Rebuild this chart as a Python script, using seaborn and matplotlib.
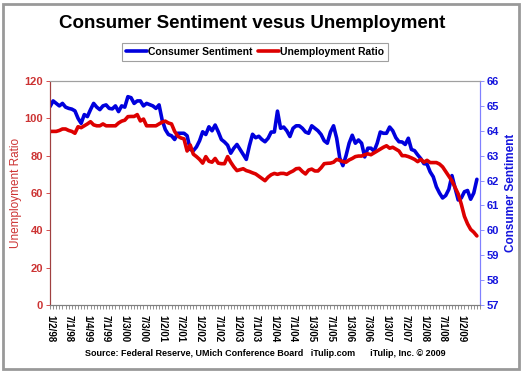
import matplotlib
matplotlib.use("Agg")
import pandas as pd
import matplotlib.pyplot as plt
import seaborn as sns
from matplotlib.patches import Rectangle

# x tick labels, one every 6 months (monthly data, Jan 1998 - Jun 2009)
tick_dates = ["1/2/98", "7/1/98", "1/4/99", "7/1/99", "1/3/00", "7/3/00", "1/2/01", "7/2/01",
              "1/2/02", "7/1/02", "1/2/03", "7/1/03", "1/2/04", "7/1/04", "1/3/05", "7/1/05",
              "1/3/06", "7/3/06", "1/3/07", "7/2/07", "1/2/08", "7/1/08", "1/2/09"]

# left axis
unemployment_ratio = [
    93, 93, 93, 93.5, 94.3, 94.3, 93.5, 93, 92, 95.5,
    95, 96, 97, 98.2, 96.5, 96, 96, 97, 96, 96,
    96, 96, 97.5, 98.5, 99, 100.9, 101, 101, 102, 98.6,
    99.6, 96, 96, 96, 96, 97, 98, 98.5, 97.5, 97,
    93, 90.5, 89.5, 89, 82.5, 85.7, 80.8, 79.5, 78, 76,
    79.5, 77, 76.5, 78.5, 76, 75.7, 75.7, 79.5, 76.5, 74,
    72, 72.5, 73, 72, 71.5, 70.8, 70.2, 69, 67.8, 66.6,
    68.5, 69.8, 70.5, 70, 70.5, 70.5, 70, 71, 71.8, 73,
    73.2, 71.5, 70.2, 72.3, 72.8, 71.8, 71.8, 73.5, 75.7, 75.9,
    76, 76.5, 78, 77.5, 76.8, 76.5, 77.7, 78.5, 79.5, 79.8,
    79.8, 80.5, 81, 80.5, 81.5, 82.5, 83.5, 84.5, 85.3, 84,
    84.5, 83.5, 82.5, 80, 80, 79.5, 78.8, 78, 76.8, 78,
    76.5, 77.5, 76.3, 76.3, 76.3, 75.5, 74, 71.5, 69, 66.5,
    63, 59.5, 54, 47.5, 43.5, 40.5, 39, 37,
]

# right axis
consumer_sentiment = [
    64.97, 65.2, 65.1, 65.0, 65.1, 64.95, 64.9, 64.87, 64.8, 64.5,
    64.3, 64.65, 64.57, 64.85, 65.1, 64.95, 64.85, 65.0, 65.04, 64.9,
    64.88, 65.0, 64.77, 65.0, 64.95, 65.37, 65.33, 65.1, 65.2, 65.2,
    65.0, 65.1, 65.05, 65.0, 64.9, 65.04, 64.43, 64.05, 63.85, 63.8,
    63.65, 63.9, 63.9, 63.9, 63.8, 63.25, 63.2, 63.35, 63.6, 63.96,
    63.85, 64.16, 64.0, 64.23, 63.96, 63.65, 63.55, 63.42, 63.1, 63.3,
    63.45, 63.25, 63.05, 62.85, 63.4, 63.86, 63.72, 63.78, 63.65, 63.56,
    63.7, 63.95, 63.95, 64.79, 64.1, 64.15, 64.0, 63.77, 64.1, 64.2,
    64.2, 64.1, 63.95, 63.9, 64.2, 64.1, 64.0, 63.85, 63.6, 63.5,
    63.95, 64.2, 63.7, 62.9, 62.6, 63.0, 63.5, 63.82, 63.5, 63.63,
    63.5, 62.95, 63.3, 63.3, 63.18, 63.5, 63.95, 63.9, 63.9, 64.15,
    64.0, 63.72, 63.56, 63.55, 63.45, 63.7, 63.25, 63.2, 63.03, 62.88,
    62.68, 62.66, 62.35, 62.15, 61.75, 61.5, 61.3, 61.4, 61.65, 62.2,
    61.7, 61.22, 61.3, 61.55, 61.6, 61.25, 61.5, 62.05,
]

RED = "#DD0000"
BLUE = "#0000DD"
RED_TXT = "#CC3333"
BLUE_TXT = "#1515DD"

sns.set_style("white")
plt.rcParams['font.family'] = ['Liberation Sans', 'DejaVu Sans']
plt.rcParams['text.color'] = "black"
plt.rcParams['xtick.color'] = "black"

df = pd.DataFrame({
    "month": range(len(unemployment_ratio)),
    "Unemployment Ratio": unemployment_ratio,
    "Consumer Sentiment": consumer_sentiment,
})

fig = plt.figure(figsize=(5.24, 3.73), dpi=100)
ax = fig.add_axes([50 / 524, 68 / 373, 430 / 524, 224 / 373])
ax2 = ax.twinx()

sns.lineplot(data=df, x="month", y="Consumer Sentiment", ax=ax2, color=BLUE, lw=2.6,
             legend=False)
sns.lineplot(data=df, x="month", y="Unemployment Ratio", ax=ax, color=RED, lw=2.6,
             legend=False)
# red drawn over blue
ax.set_zorder(ax2.get_zorder() + 1)
ax.patch.set_visible(False)

ax.set_xlim(0, 138)
ax.set_ylim(0, 120)
ax.set_yticks(range(0, 121, 20))
ax2.set_ylim(57, 66)
ax2.set_yticks(range(57, 67))

ax.set_xticks(range(0, len(tick_dates) * 6, 6))
ax.set_xticklabels(tick_dates, rotation=270, fontsize=7, fontweight="bold", color="black")
ax.set_xticks(range(0, 139), minor=True)
ax.tick_params(axis="x", which="both", direction="out", length=3, width=0.6,
               color="#808080", bottom=True, pad=4)

ax.tick_params(axis="y", direction="out", length=3, width=0.6, color=RED_TXT,
               labelcolor=RED_TXT, labelsize=8, left=True, pad=2)
ax2.tick_params(axis="y", direction="out", length=3, width=0.6, color="#8080FF",
                labelcolor=BLUE_TXT, labelsize=8, right=True, pad=2)
for lab in ax.get_yticklabels():
    lab.set_fontweight("bold")
for lab in ax2.get_yticklabels():
    lab.set_fontweight("bold")

ax.set_xlabel("")
ax.set_ylabel("Unemployment Ratio", color=RED_TXT, fontsize=8.5, labelpad=2)
ax2.set_ylabel("Consumer Sentiment", color=BLUE_TXT, fontsize=8.5, fontweight="bold",
               labelpad=4)

for a in (ax, ax2):
    a.spines["top"].set_color("#A0A0A0")
    a.spines["top"].set_linestyle((0, (1, 1)))
    a.spines["top"].set_linewidth(0.8)
    a.spines["bottom"].set_color("#808080")
    a.spines["bottom"].set_linewidth(0.8)
    a.spines["left"].set_color("#A04040")
    a.spines["left"].set_linestyle((0, (1, 1)))
    a.spines["left"].set_linewidth(0.8)
    a.spines["right"].set_color("#8080FF")
    a.spines["right"].set_linewidth(0.8)

# legend (blue first)
handles = [plt.Line2D([], [], color=BLUE, lw=2.6), plt.Line2D([], [], color=RED, lw=2.6)]
leg = fig.legend(handles, ["Consumer Sentiment", "Unemployment Ratio"],
                 loc="center", bbox_to_anchor=(255 / 524, 1 - 52 / 373), ncol=2,
                 frameon=True, fancybox=False, edgecolor="#A0A0A0", framealpha=1,
                 prop={"size": 7.5, "weight": "bold"}, handlelength=2.0,
                 handletextpad=0.1, columnspacing=0.6, borderpad=0.35)
leg.get_frame().set_linewidth(0.8)
for t in leg.get_texts():
    t.set_color("black")

fig.text(252 / 524, 1 - 23 / 373, "Consumer Sentiment vesus Unemployment",
         ha="center", va="center", fontsize=13.5, fontweight="bold", color="black")
fig.text(265 / 524, 1 - 354 / 373,
         "Source: Federal Reserve, UMich Conference Board   iTulip.com      iTulip, Inc. \u00a9 2009",
         ha="center", va="center", fontsize=6.5, fontweight="bold", color="black")

# outer frame
fig.patches.append(Rectangle((3 / 524, 4 / 373), 516 / 524, 365 / 373,
                             transform=fig.transFigure, fill=False,
                             edgecolor="#999999", lw=2))

fig.savefig("out.png", dpi=100)
